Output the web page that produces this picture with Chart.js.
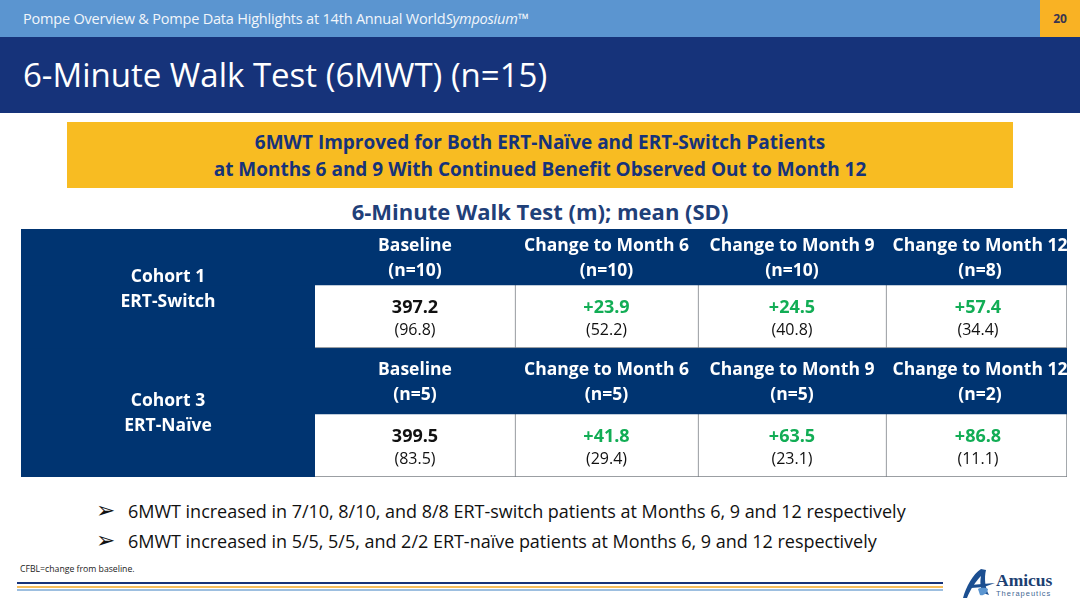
<!DOCTYPE html>
<html>
<head>
<meta charset="utf-8">
<title>6-Minute Walk Test</title>
<script src="https://cdn.jsdelivr.net/npm/chart.js@4/dist/chart.umd.min.js"></script>
<style>
  * { margin: 0; padding: 0; box-sizing: border-box; }
  body { width: 1080px; height: 608px; background: #fff; overflow: hidden; position: relative; font-family: 'Open Sans', sans-serif; }
  .abs { position: absolute; white-space: nowrap; }
  .strip { left: 0; top: 0; width: 1040px; height: 37px; background: #5b95d0; }
  .page-box { left: 1040px; top: 0; width: 40px; height: 37px; background: #f9b224; color: #3a3550; font-size: 12px; font-weight: 700; text-align: center; line-height: 37px; }
  .band { left: 0; top: 37px; width: 1080px; height: 76px; background: #16337a; }
  .strip-text { left: 23px; top: 9px; color: #f2f6fb; font-size: 14.5px; letter-spacing: -0.2px; line-height: 20px; }
  .title { left: 23px; top: 53px; color: #fff; font-size: 33px; line-height: 44px; }
  .banner { left: 67px; top: 122px; width: 946px; height: 66px; background: #f8bc22; color: #16337a; font-size: 19px; font-weight: 700; text-align: center; line-height: 26.5px; padding-top: 7px; }
  .subhead { left: 0; width: 1080px; top: 195px; text-align: center; color: #1f4079; font-size: 22px; font-weight: 700; line-height: 32px; }
  #table-wrap { position: absolute; left: 21px; top: 229px; width: 1046px; height: 248px; }
  .bullet { color: #111; font-size: 18px; letter-spacing: -0.02px; line-height: 24px; }
  .mark { color: #111; font-family: 'DejaVu Sans'; font-size: 23px; line-height: 24px; }
  .note { left: 20px; top: 562px; color: #222; font-size: 8.7px; line-height: 14px; }
  .rule { left: 17px; width: 926px; height: 2px; }
</style>
</head>
<body>
<div class="abs strip"></div>
<div class="abs page-box">20</div>
<div class="abs band"></div>
<div class="abs strip-text">Pompe Overview &amp; Pompe Data Highlights at 14th Annual World<i>Symposium™</i></div>
<div class="abs title">6-Minute Walk Test (6MWT) (n=15)</div>
<div class="abs banner">6MWT Improved for Both ERT-Naïve and ERT-Switch Patients<br>at Months 6 and 9 With Continued Benefit Observed Out to Month 12</div>
<div class="abs subhead">6-Minute Walk Test (m); mean (SD)</div>

<div id="table-wrap"><canvas id="walk-table"></canvas></div>

<div class="abs mark" style="left:96px;top:498px">➢</div>
<div class="abs bullet" style="left:128px;top:499px">6MWT increased in 7/10, 8/10, and 8/8 ERT-switch patients at Months 6, 9 and 12 respectively</div>
<div class="abs mark" style="left:96px;top:528px">➢</div>
<div class="abs bullet" style="left:128px;top:529px">6MWT increased in 5/5, 5/5, and 2/2 ERT-naïve patients at Months 6, 9 and 12 respectively</div>
<div class="abs note">CFBL=change from baseline.</div>

<div class="abs rule" style="top:582px;background:#16337a"></div>
<div class="abs rule" style="top:586px;background:#f5bd5c"></div>
<div class="abs rule" style="top:589px;background:#9dbfe0"></div>

<svg class="abs" style="left:960px;top:566px" width="100" height="36" viewBox="0 0 100 36">
  <path d="M3 32 C6 21 13 8 21 3 L26 4 C24 12 25 22 29 29 L23 27 C20 21 20 15 21 10 C16 15 10 24 7 32 Z" fill="#1c4f91"/>
  <path d="M10 19 L35 17 L24 21 L11 22 Z" fill="#1c4f91"/>
  <path d="M18 23 C22 21 26 22 28 23 C27 28 23 30 20 29 Z" fill="#5b95d0"/>
  <text x="36" y="20" font-family="Liberation Serif" font-weight="700" font-size="17.5" fill="#1c4072">Amicus</text>
  <text x="36" y="29.5" font-family="Liberation Sans" font-size="7.5" letter-spacing="1" fill="#3f6794">Therapeutics</text>
</svg>

<script>
'use strict';

// ── Table content ──
const cohortNames = [['Cohort 1', 'ERT-Switch'], ['Cohort 3', 'ERT-Naïve']];
const columnHeads = ['Baseline', 'Change to Month 6', 'Change to Month 9', 'Change to Month 12'];
const cohort1N = [10, 10, 10, 8];
const cohort3N = [5, 5, 5, 2];
const cohort1Means = [397.2, 23.9, 24.5, 57.4];
const cohort1Sd = [96.8, 52.2, 40.8, 34.4];
const cohort3Means = [399.5, 41.8, 63.5, 86.8];
const cohort3Sd = [83.5, 29.4, 23.1, 11.1];

// ── Grid layout, in axis units (one unit = one pixel of the table) ──
const COL_EDGES = [0, 294, 494, 677, 865, 1046];
const ROW_EDGES = [0, 56, 119, 185, 248];

const NAVY = '#003471';
const GREEN = '#12ad55';
const INK = '#111111';
const FONT = "'Open Sans', sans-serif";

function fullRow(rowIndex) {
  const mid = (ROW_EDGES[rowIndex] + ROW_EDGES[rowIndex + 1]) / 2;
  return {
    label: 'head' + rowIndex,
    data: [{ x: [0, COL_EDGES[5]], y: mid }],
    backgroundColor: NAVY,
    borderWidth: 0,
    barThickness: ROW_EDGES[rowIndex + 1] - ROW_EDGES[rowIndex],
    grouped: false,
  };
}

function cellBorder(c) {
  if (c === 0) return 0;
  if (c === 1) return { bottom: 1 };
  if (c === 4) return { left: 1, bottom: 1, right: 1 };
  return { left: 1, bottom: 1 };
}

function cellRow(rowIndex) {
  const mid = (ROW_EDGES[rowIndex] + ROW_EDGES[rowIndex + 1]) / 2;
  return {
    label: 'cells' + rowIndex,
    data: COL_EDGES.slice(0, -1).map((edge, c) => ({ x: [edge, COL_EDGES[c + 1]], y: mid })),
    backgroundColor: COL_EDGES.slice(0, -1).map((_, c) => c === 0 ? NAVY : '#ffffff'),
    borderColor: '#7a7f85',
    borderWidth: COL_EDGES.slice(0, -1).map((_, c) => cellBorder(c)),
    borderSkipped: false,
    barThickness: ROW_EDGES[rowIndex + 1] - ROW_EDGES[rowIndex],
    grouped: false,
  };
}

// Cell text goes through the scales, so it stays tied to the grid
const tableText = {
  id: 'tableText',
  afterDatasetsDraw(chart) {
    const { ctx, scales: { x, y } } = chart;
    const put = (text, colMid, rowY, font, color) => {
      ctx.font = font;
      ctx.fillStyle = color;
      ctx.fillText(text, x.getPixelForValue(colMid), y.getPixelForValue(rowY));
    };
    const colMid = c => (COL_EDGES[c] + COL_EDGES[c + 1]) / 2;
    const headFont = `700 17.5px ${FONT}`;
    const meanFont = `700 18px ${FONT}`;
    const sdFont = `400 16px ${FONT}`;

    ctx.save();
    ctx.textAlign = 'center';
    ctx.textBaseline = 'middle';

    put(cohortNames[0][0], 147, 48, headFont, '#fff');
    put(cohortNames[0][1], 147, 73, headFont, '#fff');
    put(cohortNames[1][0], 147, 172, headFont, '#fff');
    put(cohortNames[1][1], 147, 197, headFont, '#fff');

    columnHeads.forEach((head, i) => {
      const c = i + 1;
      const fmt = v => (v > 0 ? '+' : '') + v.toFixed(1);
      // the slide's last column sits a little right of its cell centre
      const headMid = colMid(c) + (i === 3 ? 3.5 : 0);
      const cellMid = colMid(c) + (i === 3 ? 1.5 : 0);
      put(head, headMid, 17, headFont, '#fff');
      put(`(n=${cohort1N[i]})`, headMid, 42, headFont, '#fff');
      put(i === 0 ? cohort1Means[i].toFixed(1) : fmt(cohort1Means[i]), cellMid, 79, meanFont, i === 0 ? INK : GREEN);
      put(`(${cohort1Sd[i].toFixed(1)})`, cellMid, 101, sdFont, INK);
      put(head, headMid, 141, headFont, '#fff');
      put(`(n=${cohort3N[i]})`, headMid, 166, headFont, '#fff');
      put(i === 0 ? cohort3Means[i].toFixed(1) : fmt(cohort3Means[i]), cellMid, 208, meanFont, i === 0 ? INK : GREEN);
      put(`(${cohort3Sd[i].toFixed(1)})`, cellMid, 230, sdFont, INK);
    });
    ctx.restore();
  },
};

new Chart(document.getElementById('walk-table'), {
  type: 'bar',
  data: { datasets: [fullRow(0), cellRow(1), fullRow(2), cellRow(3)] },
  options: {
    indexAxis: 'y',
    responsive: true,
    maintainAspectRatio: false,
    animation: false,
    events: [],
    layout: { padding: 0 },
    plugins: { legend: { display: false }, tooltip: { enabled: false } },
    scales: {
      x: { type: 'linear', min: 0, max: COL_EDGES[5], display: false },
      y: { type: 'linear', min: 0, max: ROW_EDGES[4], reverse: true, display: false, offset: false },
    },
  },
  plugins: [tableText],
});
</script>
</body>
</html>
